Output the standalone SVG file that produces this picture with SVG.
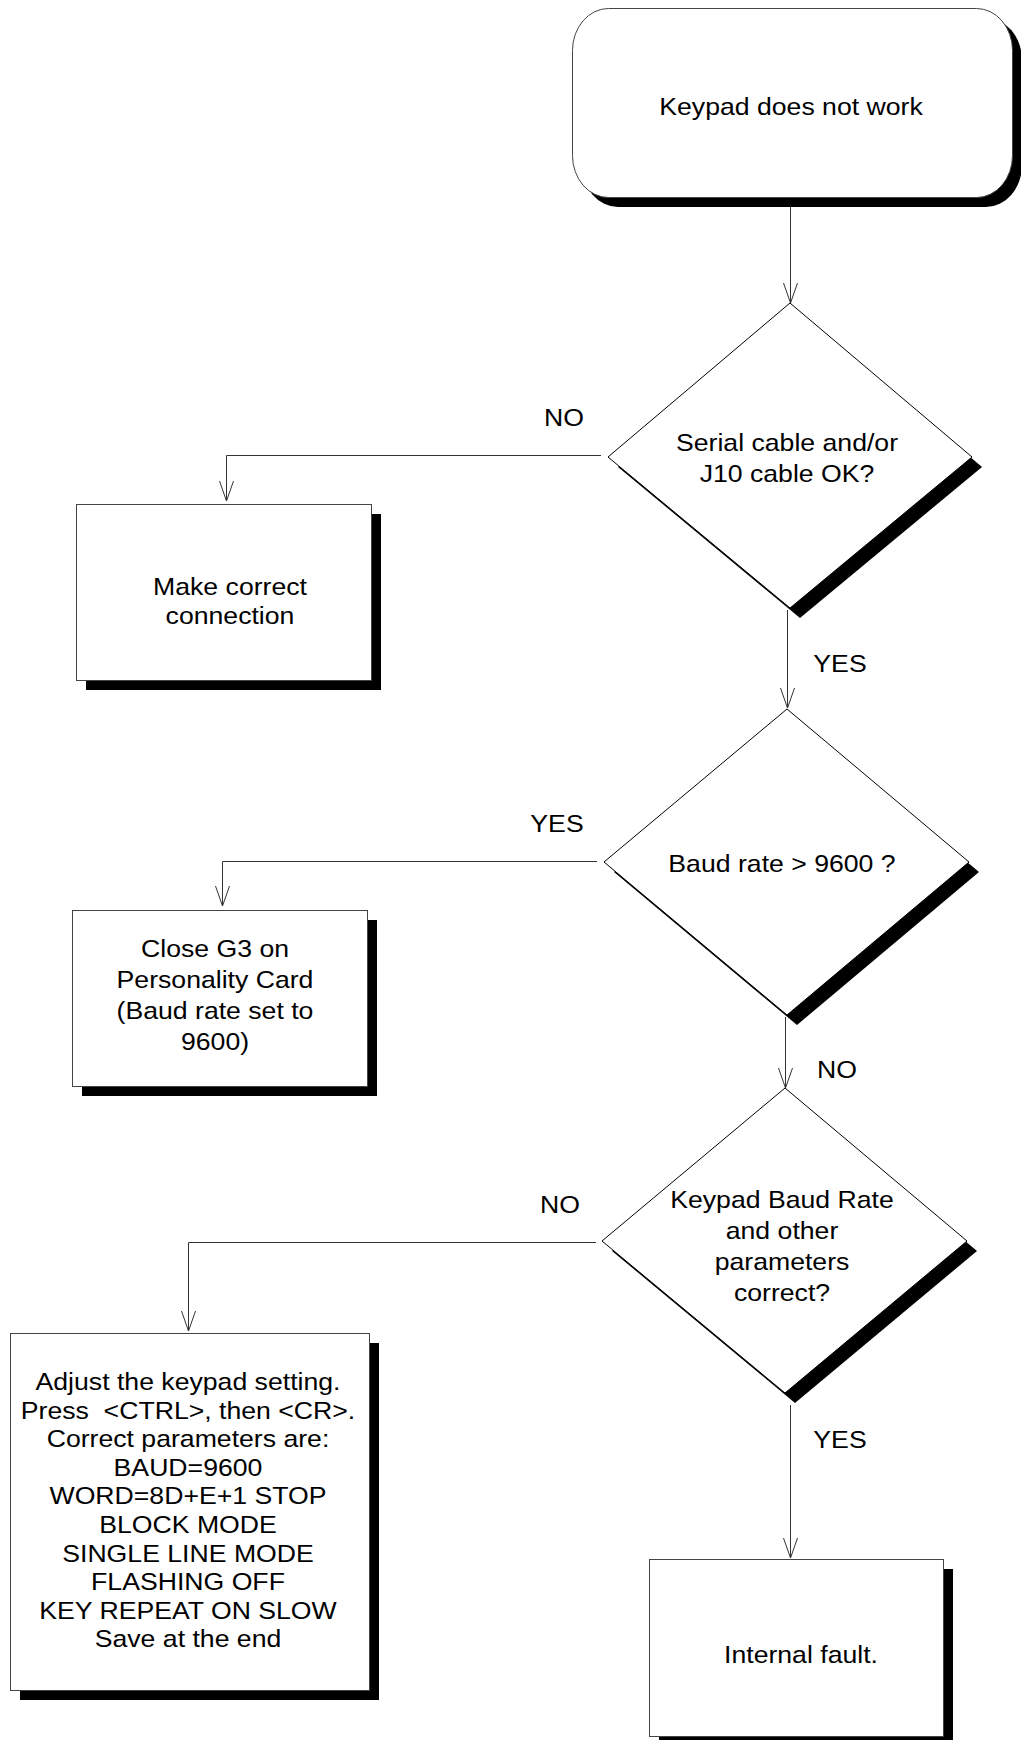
<svg xmlns="http://www.w3.org/2000/svg" width="1021" height="1740" viewBox="0 0 1021 1740">
<style>
.bg{fill:#ffffff}
.shadow{fill:#000000;stroke:none}
.box{fill:#ffffff;stroke:#444444;stroke-width:1}
.dia{fill:#ffffff;stroke:#000000;stroke-width:1}
.conn{fill:none;stroke:#333333;stroke-width:1}
text{font-family:"Liberation Sans",Arial,sans-serif;font-size:24px;fill:#000000;text-anchor:middle}
</style>
<defs>
<marker id="arr" markerUnits="userSpaceOnUse" viewBox="-1 -9 23 18" refX="20" refY="0" markerWidth="23" markerHeight="18" orient="auto" overflow="visible">
<path d="M0,-7 L20,0 L0,7" fill="none" stroke="#333333" stroke-width="1"/>
</marker>
</defs>
<rect class="bg" x="0" y="0" width="1021" height="1740"/>

<g id="connectors">
<path class="conn" d="M790.5,207 V303" marker-end="url(#arr)"/>
<path class="conn" d="M601,455.5 H226.5 V501" marker-end="url(#arr)"/>
<path class="conn" d="M787.5,610 V708" marker-end="url(#arr)"/>
<path class="conn" d="M597,861.5 H222.5 V906" marker-end="url(#arr)"/>
<path class="conn" d="M785.5,1017 V1088" marker-end="url(#arr)"/>
<path class="conn" d="M596,1242.5 H188.5 V1331" marker-end="url(#arr)"/>
<path class="conn" d="M790.5,1405 V1558" marker-end="url(#arr)"/>
<g id="labels">
<text transform="matrix(1.11 0 0 1 564 0)" x="0" y="426">NO</text>
<text transform="matrix(1.11 0 0 1 840 0)" x="0" y="672">YES</text>
<text transform="matrix(1.11 0 0 1 557 0)" x="0" y="832">YES</text>
<text transform="matrix(1.11 0 0 1 837 0)" x="0" y="1078">NO</text>
<text transform="matrix(1.11 0 0 1 560 0)" x="0" y="1213">NO</text>
<text transform="matrix(1.11 0 0 1 840 0)" x="0" y="1448">YES</text>
</g>
</g>

<g id="start">
<rect class="shadow" x="582" y="18" width="440" height="189" rx="36" ry="42"/>
<rect class="box" x="572.5" y="8.5" width="440" height="189" rx="36" ry="42" stroke="#000000"/>
<text transform="matrix(1.11 0 0 1 791 0)" x="0" y="115">Keypad does not work</text>
</g>

<g id="d1">
<polygon class="shadow" points="800,313 982,467 800,618 618,467"/>
<polygon class="dia" points="790,303 972,457 790,608 608,457"/>
<text transform="matrix(1.11 0 0 1 787 0)" x="0" y="451">Serial cable and/or</text>
<text transform="matrix(1.11 0 0 1 787 0)" x="0" y="482">J10 cable OK?</text>
</g>

<g id="b1">
<rect class="shadow" x="86" y="514" width="295" height="176"/>
<rect class="box" x="76.5" y="504.5" width="295" height="176"/>
<text transform="matrix(1.11 0 0 1 230 0)" x="0" y="595">Make correct</text>
<text transform="matrix(1.11 0 0 1 230 0)" x="0" y="624">connection</text>
</g>

<g id="d2">
<polygon class="shadow" points="797,719 979,872 797,1025 614,872"/>
<polygon class="dia" points="787,709 969,862 787,1015 604,862"/>
<text transform="matrix(1.11 0 0 1 782 0)" x="0" y="872">Baud rate &gt; 9600 ?</text>
</g>

<g id="b2">
<rect class="shadow" x="82" y="920" width="295" height="176"/>
<rect class="box" x="72.5" y="910.5" width="295" height="176"/>
<text transform="matrix(1.11 0 0 1 215 0)" x="0" y="957">Close G3 on</text>
<text transform="matrix(1.11 0 0 1 215 0)" x="0" y="988">Personality Card</text>
<text transform="matrix(1.11 0 0 1 215 0)" x="0" y="1019">(Baud rate set to</text>
<text transform="matrix(1.11 0 0 1 215 0)" x="0" y="1050">9600)</text>
</g>

<g id="d3">
<polygon class="shadow" points="795,1098 977,1251 795,1403 612,1251"/>
<polygon class="dia" points="785,1088 967,1241 785,1393 602,1241"/>
<text transform="matrix(1.11 0 0 1 782 0)" x="0" y="1208">Keypad Baud Rate</text>
<text transform="matrix(1.11 0 0 1 782 0)" x="0" y="1239">and other</text>
<text transform="matrix(1.11 0 0 1 782 0)" x="0" y="1270">parameters</text>
<text transform="matrix(1.11 0 0 1 782 0)" x="0" y="1301">correct?</text>
</g>

<g id="b3">
<rect class="shadow" x="20" y="1343" width="359" height="357"/>
<rect class="box" x="10.5" y="1333.5" width="359" height="357"/>
<text transform="matrix(1.11 0 0 1 188 0)" x="0" y="1390">Adjust the keypad setting.</text>
<text transform="matrix(1.11 0 0 1 188 0)" x="0" y="1419" xml:space="preserve">Press  &lt;CTRL&gt;, then &lt;CR&gt;.</text>
<text transform="matrix(1.11 0 0 1 188 0)" x="0" y="1447">Correct parameters are:</text>
<text transform="matrix(1.11 0 0 1 188 0)" x="0" y="1476">BAUD=9600</text>
<text transform="matrix(1.11 0 0 1 188 0)" x="0" y="1504">WORD=8D+E+1 STOP</text>
<text transform="matrix(1.11 0 0 1 188 0)" x="0" y="1533">BLOCK MODE</text>
<text transform="matrix(1.11 0 0 1 188 0)" x="0" y="1562">SINGLE LINE MODE</text>
<text transform="matrix(1.11 0 0 1 188 0)" x="0" y="1590">FLASHING OFF</text>
<text transform="matrix(1.11 0 0 1 188 0)" x="0" y="1619">KEY REPEAT ON SLOW</text>
<text transform="matrix(1.11 0 0 1 188 0)" x="0" y="1647">Save at the end</text>
</g>

<g id="b4">
<rect class="shadow" x="659" y="1569" width="294" height="177"/>
<rect class="box" x="649.5" y="1559.5" width="294" height="177"/>
<text transform="matrix(1.11 0 0 1 801 0)" x="0" y="1663">Internal fault.</text>
</g>
</svg>
